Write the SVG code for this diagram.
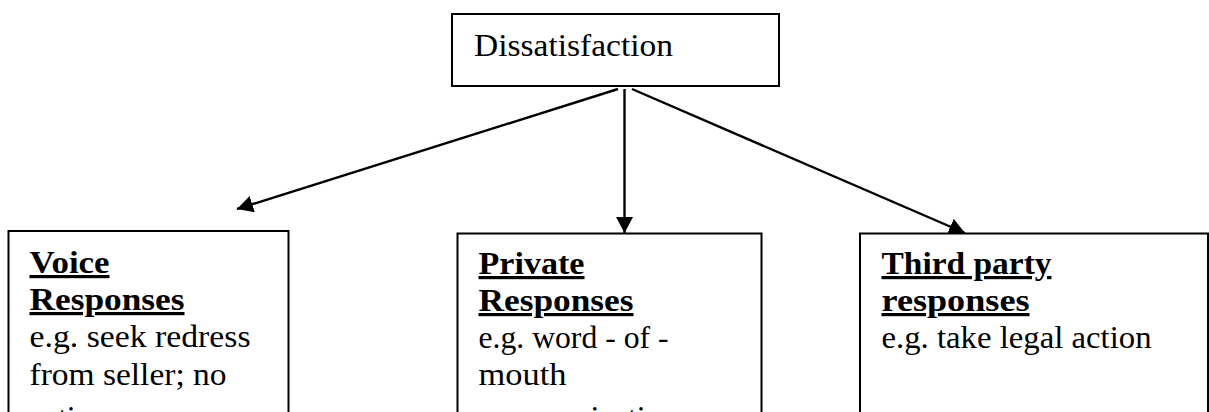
<svg xmlns="http://www.w3.org/2000/svg" width="1209" height="412" viewBox="0 0 1209 412">
<style>
.box{fill:#fff;stroke:#000;stroke-width:2}
.t{font-family:"Liberation Serif","Times New Roman",serif;font-size:32px;fill:#000}
.h{font-weight:bold;text-decoration:underline}
.c{stroke:#000;stroke-width:2.4;fill:none}
</style>
<defs>
<marker id="ah" markerUnits="userSpaceOnUse" markerWidth="17" markerHeight="17" refX="16" refY="8.5" orient="auto">
<path d="M0,0 L16,8.5 L0,17 z" fill="#000"/>
</marker>
</defs>
<rect width="1209" height="412" fill="#fff"/>
<g id="connectors">
<line class="c" x1="618" y1="89" x2="237" y2="209" marker-end="url(#ah)"/>
<line class="c" x1="624.5" y1="89" x2="624.5" y2="233" marker-end="url(#ah)"/>
<line class="c" x1="632" y1="89" x2="965" y2="233" marker-end="url(#ah)"/>
</g>
<g id="dissatisfaction">
<rect class="box" x="452" y="14" width="327" height="72"/>
<text class="t" x="474" y="56" textLength="199" lengthAdjust="spacingAndGlyphs">Dissatisfaction</text>
</g>
<g id="voice">
<rect class="box" x="8.5" y="231" width="280" height="220"/>
<text class="t h" x="29.5" y="273" textLength="80" lengthAdjust="spacingAndGlyphs">Voice</text>
<text class="t h" x="29.5" y="310" textLength="155" lengthAdjust="spacingAndGlyphs">Responses</text>
<text class="t" x="29.5" y="347" textLength="221" lengthAdjust="spacingAndGlyphs">e.g. seek redress</text>
<text class="t" x="29.5" y="385" textLength="197" lengthAdjust="spacingAndGlyphs">from seller; no</text>
<text class="t" x="29.5" y="428">action</text>
</g>
<g id="private">
<rect class="box" x="457.5" y="233.5" width="304" height="220"/>
<text class="t h" x="478.5" y="274" textLength="106" lengthAdjust="spacingAndGlyphs">Private</text>
<text class="t h" x="478.5" y="311" textLength="155" lengthAdjust="spacingAndGlyphs">Responses</text>
<text class="t" x="478.5" y="348" textLength="190" lengthAdjust="spacingAndGlyphs">e.g. word - of -</text>
<text class="t" x="478.5" y="385" textLength="88" lengthAdjust="spacingAndGlyphs">mouth</text>
<text class="t" x="478.5" y="428">communication</text>
</g>
<g id="third">
<rect class="box" x="860" y="233.5" width="348" height="220"/>
<text class="t h" x="881.5" y="274" textLength="170" lengthAdjust="spacingAndGlyphs">Third party</text>
<text class="t h" x="881.5" y="311" textLength="148" lengthAdjust="spacingAndGlyphs">responses</text>
<text class="t" x="881.5" y="348" textLength="270" lengthAdjust="spacingAndGlyphs">e.g. take legal action</text>
</g>
</svg>
